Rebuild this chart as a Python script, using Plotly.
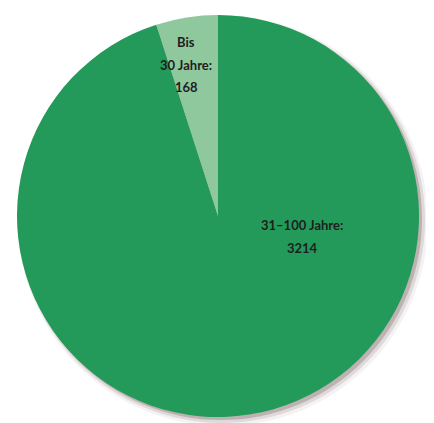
import plotly.graph_objects as go

labels = ["31–100 Jahre", "Bis 30 Jahre"]
values = [3214, 168]
label_lines = [["31–100 Jahre:", "3214"], ["Bis", "30 Jahre:", "168"]]
colors = ["#239a5a", "#8ec89c"]

W, H = 434, 423
OFF = 8  # page body margin
cx, cy, r = 218, 216, 201

def px(x):
    return (x - OFF) / W

def py(y):
    return 1 - (y - OFF) / H

fig = go.Figure()
fig.add_trace(go.Pie(
    labels=labels,
    values=values,
    sort=False,
    direction="clockwise",
    rotation=0,
    marker=dict(colors=colors, line=dict(width=0)),
    textinfo="none",
    hoverinfo="label+value",
    showlegend=False,
    domain=dict(x=[px(cx - r), px(cx + r)], y=[py(cy + r), py(cy - r)]),
))

# soft shadow (layered translucent circles, offset down-right)
shapes = []
for off, grow, op in [(5, 4, 0.06), (4, 2, 0.12), (3, 0, 0.22)]:
    shapes.append(dict(
        type="circle", xref="paper", yref="paper", layer="below",
        x0=px(cx - r - grow + off), x1=px(cx + r + grow + off),
        y0=py(cy + r + grow + off), y1=py(cy - r - grow + off),
        fillcolor=f"rgba(70,40,40,{op})", line=dict(width=0),
    ))

# label anchor (center x, first-line y) and line spacing in px
label_pos = [(302, 225), (186, 42)]
line_step = 22.5

annotations = []
for (lx, ly), lines in zip(label_pos, label_lines):
    for i, t in enumerate(lines):
        annotations.append(dict(
            text=f"<b>{t}</b>", x=px(lx), y=py(ly + i * line_step),
            xref="paper", yref="paper", xanchor="center", yanchor="middle",
            showarrow=False,
            font=dict(family="Lato", size=13, color="#1e1e1e"),
        ))

fig.update_layout(
    width=W, height=H,
    margin=dict(l=0, r=0, t=0, b=0),
    paper_bgcolor="white",
    plot_bgcolor="white",
    shapes=shapes,
    annotations=annotations,
)

fig.write_html("out.html")
